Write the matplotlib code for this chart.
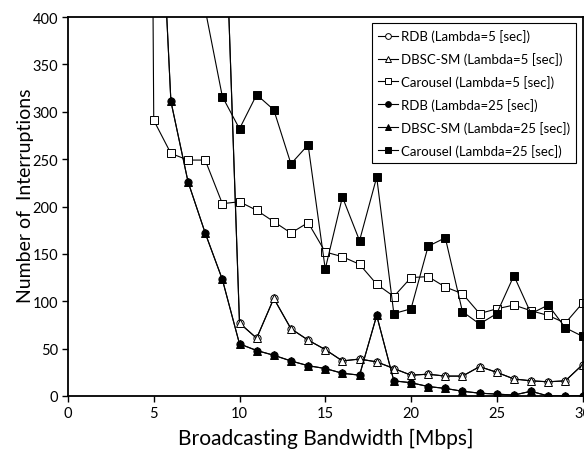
import numpy as np
import matplotlib
matplotlib.use("Agg")
import matplotlib.pyplot as plt

plt.rcParams['font.family'] = ['Lato', 'DejaVu Sans']

# Bandwidth values [Mbps] per series (first points lie above the plotted range)
x_rdb5 = [9, 10, 11, 12, 13, 14, 15, 16, 17, 18, 19, 20, 21, 22, 23, 24, 25, 26, 27, 28, 29, 30]
rdb5 = [600, 77, 61, 103, 71, 59, 49, 37, 39, 36, 29, 22, 23, 21, 21, 31, 25, 18, 16, 15, 16, 33]
dbsc5 = [600, 77, 61, 103, 71, 59, 49, 37, 39, 36, 29, 22, 23, 21, 21, 31, 25, 18, 16, 15, 16, 33]

x_car5 = [4, 5, 6, 7, 8, 9, 10, 11, 12, 13, 14, 15, 16, 17, 18, 19, 20, 21, 22, 23, 24, 25, 26, 27, 28, 29, 30]
car5 = [3000, 291, 256, 249, 249, 203, 205, 196, 184, 172, 183, 152, 147, 139, 118, 105, 125, 126,
        115, 108, 87, 92, 96, 90, 85, 77, 98]

x_rdb25 = [5, 6, 7, 8, 9, 10, 11, 12, 13, 14, 15, 16, 17, 18, 19, 20, 21, 22, 23, 24, 25, 26, 27, 28, 29, 30]
rdb25 = [680, 311, 226, 172, 123, 55, 48, 43, 37, 32, 29, 24, 22, 85, 16, 14, 10, 8, 5, 3, 2, 1, 5, 0, 0, 0]
dbsc25 = [680, 311, 226, 172, 123, 55, 48, 43, 37, 32, 29, 24, 22, 85, 16, 14, 10, 8, 5, 3, 2, 1, 5, 0, 0, 0]

x_car25 = [7, 8, 9, 10, 11, 12, 13, 14, 15, 16, 17, 18, 19, 20, 21, 22, 23, 24, 25, 26, 27, 28, 29, 30]
car25 = [700, 408, 316, 282, 318, 302, 245, 265, 134, 210, 164, 231, 87, 92, 158, 167, 89, 76, 87,
         127, 87, 96, 72, 63]

labels = ["RDB (Lambda=5 [sec])", "DBSC-SM (Lambda=5 [sec])", "Carousel (Lambda=5 [sec])",
          "RDB (Lambda=25 [sec])", "DBSC-SM (Lambda=25 [sec])", "Carousel (Lambda=25 [sec])"]
xticks = [0, 5, 10, 15, 20, 25, 30]
yticks = [0, 50, 100, 150, 200, 250, 300, 350, 400]

fig = plt.figure(figsize=(5.84, 4.52), dpi=100)
ax = fig.add_axes([68/584, 1-397/452, (582.5-68)/584, (397-18)/452])

lw = 0.8
ms = 5.2
series = [
    (x_rdb5, rdb5, 'o', 'white'),
    (x_rdb5, dbsc5, '^', 'white'),
    (x_car5, car5, 's', 'white'),
    (x_rdb25, rdb25, 'o', 'black'),
    (x_rdb25, dbsc25, '^', 'black'),
    (x_car25, car25, 's', 'black'),
]
for (xs, ys, m, fc), lab in zip(series, labels):
    ax.plot(xs, ys, color='black', lw=lw, marker=m, markersize=ms,
            markerfacecolor=fc, markeredgecolor='black', markeredgewidth=0.7, label=lab)

ax.set_xlim(0, 30)
ax.set_ylim(0, 400)
ax.set_xticks(xticks)
ax.set_yticks(yticks)
ax.tick_params(direction='out', length=4, width=1, labelsize=10.5, pad=3)
for s in ax.spines.values():
    s.set_linewidth(1.3)

ax.set_xlabel("Broadcasting Bandwidth [Mbps]", fontsize=15.1, labelpad=6)
ax.set_ylabel("Number of  Interruptions", fontsize=14)
ax.yaxis.set_label_coords(-0.066, 0.532)

leg = ax.legend(loc='upper right', bbox_to_anchor=(576/584, 1-24/452),
                bbox_transform=fig.transFigure, borderaxespad=0, fancybox=False,
                framealpha=1, edgecolor='black', fontsize=9.5, handlelength=1.5,
                handletextpad=0.2, labelspacing=0.75, borderpad=0.48, markerscale=0.8)
leg.get_frame().set_linewidth(0.8)

fig.savefig("out.png", dpi=100)
